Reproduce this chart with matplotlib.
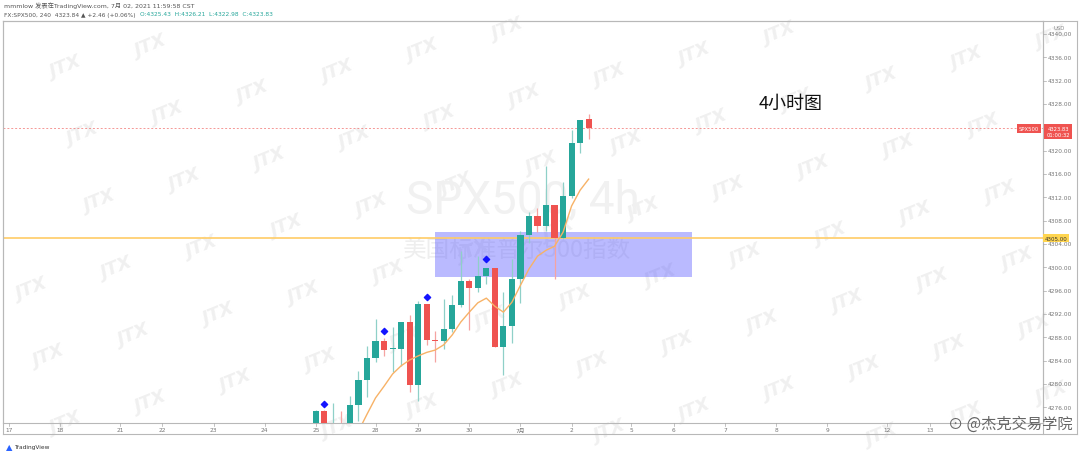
import numpy as np
import matplotlib.pyplot as plt
from matplotlib.patches import Rectangle

plt.rcParams['font.family'] = ['DejaVu Sans', 'Noto Sans CJK SC']

# 4h candles, index 1 = first bar on the 25th
opens  = [4272.5, 4275.3, 4272.0, 4273.0, 4273.0, 4276.4, 4280.65, 4284.4, 4287.3, 4285.9, 4286.0,
          4290.6, 4279.8, 4293.7, 4287.5, 4287.3, 4289.4, 4293.5, 4297.6, 4296.4, 4298.5, 4299.9,
          4286.3, 4289.9, 4298.0, 4305.5, 4308.8, 4307.1, 4310.7, 4305.0, 4312.2, 4321.3, 4325.43]
highs  = [4275.6, 4275.5, 4276.7, 4275.3, 4277.9, 4282.2, 4286.5, 4291.1, 4287.9, 4289.7, 4290.6,
          4291.8, 4294.2, 4293.7, 4289.1, 4294.55, 4295.2, 4302.8, 4298.0, 4301.9, 4299.9, 4299.9,
          4295.75, 4301.4, 4306.2, 4309.5, 4310.2, 4317.4, 4310.7, 4314.6, 4323.5, 4325.3, 4326.21]
lows   = [4271.8, 4271.0, 4271.5, 4271.0, 4272.5, 4273.6, 4277.7, 4283.7, 4284.8, 4282.0, 4283.1,
          4278.6, 4277.05, 4286.7, 4283.7, 4286.0, 4288.9, 4293.2, 4289.2, 4295.75, 4297.1, 4286.3,
          4281.5, 4287.0, 4293.9, 4304.2, 4306.0, 4306.2, 4298.0, 4304.8, 4311.9, 4319.6, 4322.0]
closes = [4275.3, 4272.8, 4272.6, 4272.3, 4276.4, 4280.65, 4284.4, 4287.3, 4285.8, 4286.1, 4290.6,
          4279.8, 4293.7, 4287.5, 4287.3, 4289.4, 4293.5, 4297.6, 4296.4, 4298.5, 4299.9, 4286.3,
          4289.9, 4298.0, 4305.5, 4308.8, 4307.1, 4310.7, 4305.0, 4312.2, 4321.3, 4325.25, 4323.83]

ma_idx = [6, 7, 8, 9, 10, 11, 12, 13, 14, 15, 16, 17, 18, 19, 20, 21, 22, 23, 24, 25, 26, 27,
          28, 29, 30, 31, 32, 33]
ma_val = [4271.9, 4274.8, 4277.6, 4279.6, 4281.7, 4283.1, 4284.1, 4284.8, 4285.4, 4285.8, 4286.7,
          4288.4, 4290.6, 4292.3, 4293.9, 4294.7, 4293.3, 4292.3, 4294.0, 4296.9, 4299.7, 4301.9,
          4302.9, 4303.6, 4306.0, 4310.5, 4313.2, 4315.1]

signal_idx = [2, 9, 14, 21]
signal_px = [4276.5, 4289.1, 4294.9, 4301.4]

day_pos = [-35, -29, -22, -17, -11, -5, 1, 8, 13, 19, 25, 31, 38, 43, 49, 55, 61, 68, 73]
day_lbl = ['17', '18', '21', '22', '23', '24', '25', '28', '29', '30', '7月', '2', '5', '6', '7',
           '8', '9', '12', '13']

price_ticks = [4276, 4280, 4284, 4288, 4292, 4296, 4300, 4304, 4308, 4312, 4316, 4320,
               4328, 4332, 4336, 4340]
last_close = 4323.83
level = 4305.0
zone = (15.0, 45.1, 4298.3, 4306.0)

W, H = 1080, 456
fig = plt.figure(figsize=(W / 100, H / 100), dpi=100)
fig.patch.set_facecolor('white')

def fx(x):
    return x / W

def fy(y):
    return 1 - y / H

left, right, top, bot = 3, 1043, 22, 424
ax = fig.add_axes([fx(left), fy(bot), fx(right) - fx(left), fy(top) - fy(bot)])
ax.set_facecolor('none')
ax.set_xlim(-35.7, 86.3)
ax.set_ylim(4273.3, 4342.2)
ax.set_xticks([])
ax.set_yticks([])
for s in ax.spines.values():
    s.set_color('#b8b8b8')
    s.set_linewidth(0.8)

# watermarks (behind everything)
fig.text(fx(523), fy(200), 'SPX500, 4h', fontsize=33, color='#f1f1f1', family='Roboto',
         ha='center', va='center', zorder=-2)
fig.text(fx(517), fy(250), '美国标准普尔500指数', fontsize=17, color='#eeeeee',
         ha='center', va='center', family=['Noto Sans CJK SC', 'DejaVu Sans'], zorder=-2)
for n in range(-14, 14):
    for m in range(-8, 8):
        px = 355 + 85 * n + 17 * m
        py = 138 - 21 * n + 67 * m
        if 25 < px < 1055 and 25 < py < 440:
            fig.text(fx(px), fy(py), 'JTX', fontsize=13, color='#f0f0f0', weight='bold',
                     style='italic', rotation=22, ha='center', va='center', zorder=-2)

# zone and lines
ax.add_patch(Rectangle((zone[0], zone[2]), zone[1] - zone[0], zone[3] - zone[2],
                       facecolor='#6666ff', alpha=0.45, edgecolor='none', zorder=1))
ax.axhline(level, color='#ffcc66', lw=1.2, zorder=2)
ax.axhline(last_close, color='#ef5350', lw=0.7, ls=(0, (2, 2)), alpha=0.6, zorder=2)

# candles
for i, (o, h, l, c) in enumerate(zip(opens, highs, lows, closes), start=1):
    up = c >= o
    body = '#26a69a' if up else '#ef5350'
    wick = '#8fd0c8' if up else '#f5a3a1'
    ax.vlines(i, l, h, color=wick, lw=0.9, zorder=3)
    ax.add_patch(Rectangle((i - 0.36, min(o, c)), 0.72, max(abs(c - o), 0.12),
                           facecolor=body, edgecolor='none', zorder=4))

ax.plot(ma_idx, ma_val, color='#f7b267', lw=1.0, zorder=5)
ax.scatter(signal_idx, signal_px, marker='D', s=10, color='#1414ff', zorder=6)

ax.text(0.757, 0.796, '4小时图', transform=ax.transAxes, fontsize=13, color='#111111',
        family=['Noto Sans CJK SC', 'DejaVu Sans'], ha='center', va='center', zorder=7)

# outer frame: price scale and time scale
frame = fig.add_axes([fx(3), fy(435), fx(1077) - fx(3), fy(22) - fy(435)], facecolor='none')
frame.set_xticks([])
frame.set_yticks([])
for s in frame.spines.values():
    s.set_color('#b8b8b8')
    s.set_linewidth(0.8)
fig.add_artist(plt.Line2D([fx(right), fx(right)], [fy(22), fy(435)], color='#b8b8b8', lw=0.8))

# price labels
for p in price_ticks:
    yy = ax.transData.transform((0, p))[1] / H
    fig.text(fx(1048), yy, f'{p:.2f}', fontsize=4.2, color='#777777', va='center', ha='left')
    fig.add_artist(plt.Line2D([fx(right), fx(right + 3)], [yy, yy], color='#aaaaaa', lw=0.5))
fig.text(fx(1054), fy(28), 'USD', fontsize=3.8, color='#888888', va='center')

ylc = ax.transData.transform((0, last_close))[1] / H
fig.text(fx(1029), ylc, 'SPX500', fontsize=3.8, color='white', ha='center', va='center',
         bbox=dict(boxstyle='square,pad=0.35', fc='#ef5350', ec='none'))
fig.text(fx(1058), ylc - 0.008, '4323.83\n01:00:32', fontsize=3.8, color='white', ha='center',
         va='center', linespacing=1.3,
         bbox=dict(boxstyle='square,pad=0.35', fc='#ef5350', ec='none'))
ylv = ax.transData.transform((0, level))[1] / H
fig.text(fx(1056), ylv, '4305.00', fontsize=4.0, color='#333333', ha='center', va='center',
         bbox=dict(boxstyle='square,pad=0.25', fc='#ffd54f', ec='none'))

# date labels
for d, t in zip(day_pos, day_lbl):
    xx = ax.transData.transform((d, 0))[0] / W
    fig.text(xx, fy(431), t, fontsize=4.2, color='#777777', ha='center', va='center')
    fig.add_artist(plt.Line2D([xx, xx], [fy(424), fy(427)], color='#aaaaaa', lw=0.5))

# header
fig.text(fx(4), fy(6), 'mmmlow 发表在TradingView.com, 7月 02, 2021 11:59:58 CST', fontsize=4.5,
         color='#555555', va='center')
fig.text(fx(4), fy(15), 'FX:SPX500, 240  4323.84 ▲ +2.46 (+0.06%)', fontsize=4.2,
         color='#555555', va='center')
fig.text(fx(140), fy(15), 'O:4325.43  H:4326.21  L:4322.98  C:4323.83', fontsize=4.2,
         color='#26a69a', va='center')

# footer
fig.text(fx(6), fy(448), '▲', fontsize=6, color='#2962ff', va='center')
fig.text(fx(14), fy(448), 'TradingView', fontsize=4.2, color='#333333', va='center')
fig.text(fx(1010), fy(424), '⊙ @杰克交易学院', fontsize=11, color='#666666', ha='center',
         va='center', family=['Noto Sans CJK SC', 'DejaVu Sans'], zorder=10)

fig.savefig('out.png', dpi=100)
